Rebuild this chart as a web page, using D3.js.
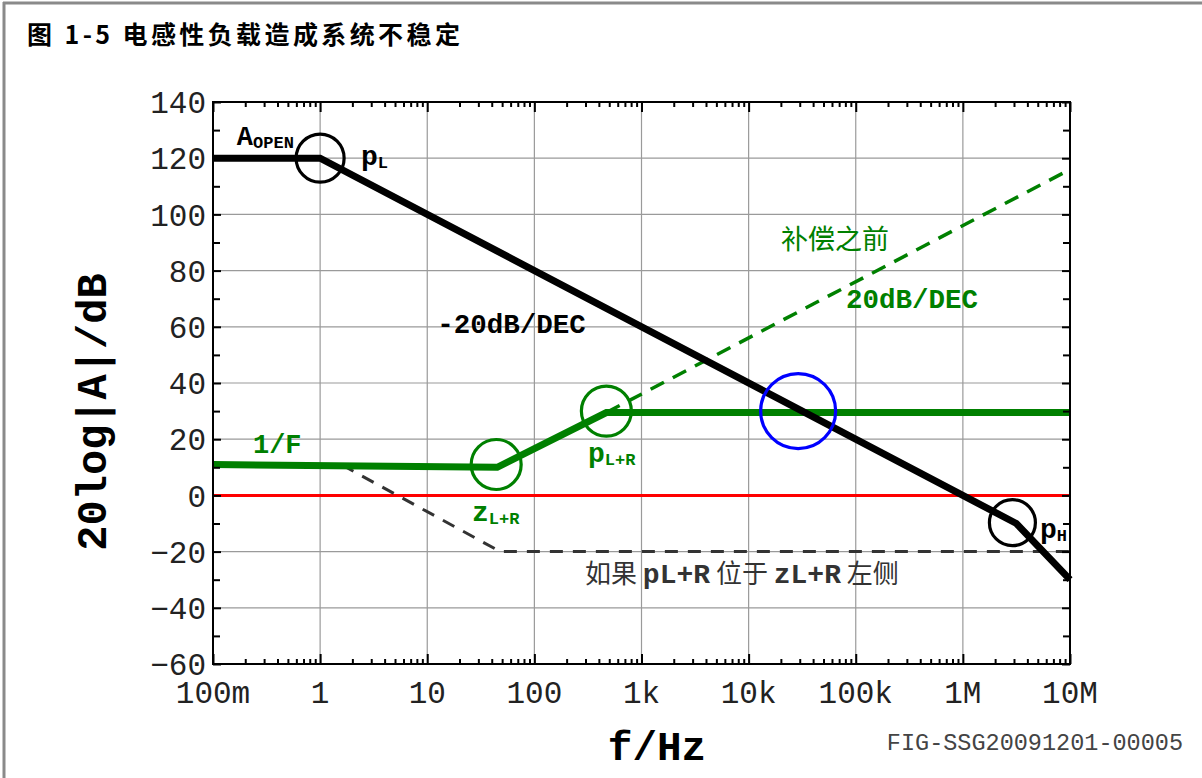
<!DOCTYPE html>
<html>
<head>
<meta charset="utf-8">
<script src="https://cdn.jsdelivr.net/npm/d3@7"></script>
<style>
  html, body { margin: 0; padding: 0; background: #fff; }
  svg { display: block; }
</style>
</head>
<body>
<svg id="chart" width="1202" height="778"></svg>
<script>
// ---------- data ----------
const xTickValues = [0.1, 1, 10, 100, 1e3, 1e4, 1e5, 1e6, 1e7];
const xTickLabels = ["100m", "1", "10", "100", "1k", "10k", "100k", "1M", "10M"];
const yTickValues = [-60, -40, -20, 0, 20, 40, 60, 80, 100, 120, 140];
const yTickLabels = ["\u221260", "\u221240", "\u221220", "0", "20", "40", "60", "80", "100", "120", "140"];

// open-loop gain A (black)
const openLoopF  = [0.1, 1, 3.16e6, 1e7];
const openLoopDB = [120, 120, -10, -30];
// 1/F (green, thick)
const invFF  = [0.1, 45, 470, 1e7];
const invFDB = [11, 10, 29.5, 29.5];
// 1/F before compensation (green dashed, 20dB/DEC)
const uncompF  = [470, 1e7];
const uncompDB = [29.5, 116];
// case pL+R left of zL+R (grey dashed)
const altF  = [1.6, 48, 1e7];
const altDB = [10.8, -20, -20];
// 0 dB line (red)
const zeroF  = [0.1, 1e7];
const zeroDB = [0, 0];

// marked points (circles)
const markNames = ["pL", "zL+R", "pL+R", "cross", "pH"];
const markF     = [1, 44, 470, 29000, 2.9e6];
const markDB    = [120, 11, 30, 30, -9.7];

// ---------- layout ----------
const svg = d3.select("#chart");
const pLeft = 213, pRight = 1070, pTop = 102, pBottom = 664;
const x = d3.scaleLog().domain([0.1, 1e7]).range([pLeft, pRight]);
const y = d3.scaleLinear().domain([-60, 140]).range([pBottom, pTop]);

const MONO = "'Liberation Mono','Courier New',monospace";
const CJK = "'Noto Sans CJK SC','Noto Sans CJK TC',sans-serif";
const GREEN = "#008000";

// figure border (top & left)
svg.append("line").attr("x1", 3).attr("x2", 1202).attr("y1", 3).attr("y2", 3)
  .attr("stroke", "#8a8a8a").attr("stroke-width", 3);
svg.append("line").attr("x1", 4).attr("x2", 4).attr("y1", 2).attr("y2", 778)
  .attr("stroke", "#8a8a8a").attr("stroke-width", 3);

// title
svg.append("text").attr("x", 27).attr("y", 44)
  .attr("font-family", CJK).attr("font-weight", "bold").attr("font-size", 25)
  .attr("letter-spacing", 3.4).attr("fill", "#000")
  .text("图 1-5 电感性负载造成系统不稳定");

// ---------- grid ----------
const grid = svg.append("g");
grid.selectAll("line.v").data(xTickValues).join("line").attr("class", "v")
  .attr("x1", d => x(d)).attr("x2", d => x(d)).attr("y1", pTop).attr("y2", pBottom)
  .attr("stroke", "#9a9a9a").attr("stroke-width", 1.2);
grid.selectAll("line.h").data(yTickValues).join("line").attr("class", "h")
  .attr("x1", pLeft).attr("x2", pRight).attr("y1", d => y(d)).attr("y2", d => y(d))
  .attr("stroke", "#9a9a9a").attr("stroke-width", 1.2);

// ---------- axes (ticks inward on all sides) ----------
const minorX = [];
for (let e = -1; e < 7; e++) for (let m = 2; m <= 9; m++) minorX.push(m * Math.pow(10, e));
const minorY = [-50, -30, -10, 10, 30, 50, 70, 90, 110, 130];

const axB = d3.axisTop(x).tickValues(xTickValues).tickFormat("").tickSize(10).tickSizeOuter(0);
const axBm = d3.axisTop(x).tickValues(minorX).tickFormat("").tickSize(5).tickSizeOuter(0);
const axT = d3.axisBottom(x).tickValues(xTickValues).tickFormat("").tickSize(10).tickSizeOuter(0);
const axTm = d3.axisBottom(x).tickValues(minorX).tickFormat("").tickSize(5).tickSizeOuter(0);
const axL = d3.axisRight(y).tickValues(yTickValues).tickFormat("").tickSize(8).tickSizeOuter(0);
const axLm = d3.axisRight(y).tickValues(minorY).tickFormat("").tickSize(7).tickSizeOuter(0);
const axR = d3.axisLeft(y).tickValues(yTickValues).tickFormat("").tickSize(8).tickSizeOuter(0);
const axRm = d3.axisLeft(y).tickValues(minorY).tickFormat("").tickSize(7).tickSizeOuter(0);

function styleAxis(g) {
  g.selectAll("path.domain").remove();
  g.selectAll("line").attr("stroke", "#000").attr("stroke-width", 2);
}

// ---------- lines ----------
const lineGen = d3.line().x(d => x(d[0])).y(d => y(d[1]));
const zip = (a, b) => a.map((v, i) => [v, b[i]]);

const plot = svg.append("g");
plot.append("path").attr("d", lineGen(zip(zeroF, zeroDB)))
  .attr("fill", "none").attr("stroke", "#ff0000").attr("stroke-width", 3);
plot.append("path").attr("d", lineGen(zip(altF, altDB)))
  .attr("fill", "none").attr("stroke", "#333").attr("stroke-width", 3)
  .attr("stroke-dasharray", "13,10");
plot.append("path").attr("d", lineGen(zip(uncompF, uncompDB)))
  .attr("fill", "none").attr("stroke", GREEN).attr("stroke-width", 3.5)
  .attr("stroke-dasharray", "15,10");
plot.append("path").attr("d", lineGen(zip(invFF, invFDB)))
  .attr("fill", "none").attr("stroke", GREEN).attr("stroke-width", 7);
plot.append("path").attr("d", lineGen(zip(openLoopF, openLoopDB)))
  .attr("fill", "none").attr("stroke", "#000").attr("stroke-width", 7);

// circles
const markStyle = {
  "pL": { r: 24, c: "#000" },
  "zL+R": { r: 25, c: GREEN },
  "pL+R": { r: 25, c: GREEN },
  "cross": { r: 37.5, c: "#0000ff" },
  "pH": { r: 23, c: "#000" }
};
plot.selectAll("circle").data(markNames).join("circle")
  .attr("cx", (d, i) => x(markF[i])).attr("cy", (d, i) => y(markDB[i]))
  .attr("r", d => markStyle[d].r).attr("fill", "none")
  .attr("stroke", d => markStyle[d].c).attr("stroke-width", 3.2);

// frame & ticks on top
svg.append("rect").attr("x", pLeft).attr("y", pTop).attr("width", pRight - pLeft).attr("height", pBottom - pTop)
  .attr("fill", "none").attr("stroke", "#000").attr("stroke-width", 2);
svg.append("g").attr("transform", `translate(0,${pBottom})`).call(axB).call(styleAxis);
svg.append("g").attr("transform", `translate(0,${pBottom})`).call(axBm).call(styleAxis);
svg.append("g").attr("transform", `translate(0,${pTop})`).call(axT).call(styleAxis);
svg.append("g").attr("transform", `translate(0,${pTop})`).call(axTm).call(styleAxis);
svg.append("g").attr("transform", `translate(${pLeft},0)`).call(axL).call(styleAxis);
svg.append("g").attr("transform", `translate(${pLeft},0)`).call(axLm).call(styleAxis);
svg.append("g").attr("transform", `translate(${pRight},0)`).call(axR).call(styleAxis);
svg.append("g").attr("transform", `translate(${pRight},0)`).call(axRm).call(styleAxis);

// tick labels
svg.append("g").selectAll("text").data(xTickValues).join("text")
  .attr("x", d => x(d)).attr("y", pBottom + 39)
  .attr("text-anchor", "middle").attr("font-family", MONO).attr("font-size", 31)
  .attr("fill", "#222").text((d, i) => xTickLabels[i]);
svg.append("g").selectAll("text").data(yTickValues).join("text")
  .attr("x", pLeft - 7).attr("y", d => y(d)).attr("dy", "0.36em")
  .attr("text-anchor", "end").attr("font-family", MONO).attr("font-size", 31)
  .attr("fill", "#222").text((d, i) => yTickLabels[i]);

// axis titles
svg.append("text").attr("transform", "translate(106,412) rotate(-90)")
  .attr("text-anchor", "middle").attr("font-family", MONO).attr("font-weight", "bold")
  .attr("font-size", 42).attr("fill", "#000").text("20log|A|/dB");
svg.append("text").attr("x", 657).attr("y", 760)
  .attr("text-anchor", "middle").attr("font-family", MONO).attr("font-weight", "bold")
  .attr("font-size", 41).attr("fill", "#000").text("f/Hz");
svg.append("text").attr("x", 1183).attr("y", 750)
  .attr("text-anchor", "end").attr("font-family", MONO)
  .attr("font-size", 23.5).attr("fill", "#444").text("FIG-SSG20091201-00005");

// ---------- annotations (anchored in data coordinates) ----------
function subLabel(f, db, main, sub, color, size, subSize) {
  const t = svg.append("text").attr("x", x(f)).attr("y", y(db))
    .attr("font-family", MONO).attr("font-weight", "bold").attr("fill", color)
    .attr("font-size", size);
  t.append("tspan").text(main);
  t.append("tspan").attr("font-size", subSize).attr("dy", 3).text(sub);
}
subLabel(0.167, 124.8, "A", "OPEN", "#000", 27, 17);
subLabel(2.41, 117.6, "p", "L", "#000", 28, 17);
subLabel(26.2, -9.1, "z", "L+R", GREEN, 28, 17);
subLabel(317, 12.0, "p", "L+R", GREEN, 28, 17);
subLabel(5.25e6, -15.2, "p", "H", "#000", 28, 17);

function plainLabel(f, db, txt, color, size, family, weight) {
  svg.append("text").attr("x", x(f)).attr("y", y(db))
    .attr("font-family", family).attr("font-weight", weight)
    .attr("font-size", size).attr("fill", color).text(txt);
}
plainLabel(12.4, 57.8, "-20dB/DEC", "#000", 27.5, MONO, "bold");
plainLabel(81000, 66.6, "20dB/DEC", GREEN, 27.5, MONO, "bold");
plainLabel(0.236, 15.2, "1/F", GREEN, 27, MONO, "bold");
plainLabel(20100, 87.7, "补偿之前", GREEN, 27, CJK, "normal");

// "如果 pL+R 位于 zL+R 左侧"
const cond = svg.append("text").attr("x", x(297)).attr("y", y(-31.0))
  .attr("font-size", 26).attr("fill", "#333");
cond.append("tspan").attr("font-family", CJK).text("如果 ");
cond.append("tspan").attr("font-family", MONO).attr("font-weight", "bold").attr("font-size", 28).text("pL+R");
cond.append("tspan").attr("font-family", CJK).text(" 位于 ");
cond.append("tspan").attr("font-family", MONO).attr("font-weight", "bold").attr("font-size", 28).text("zL+R");
cond.append("tspan").attr("font-family", CJK).text(" 左侧");
</script>
</body>
</html>
